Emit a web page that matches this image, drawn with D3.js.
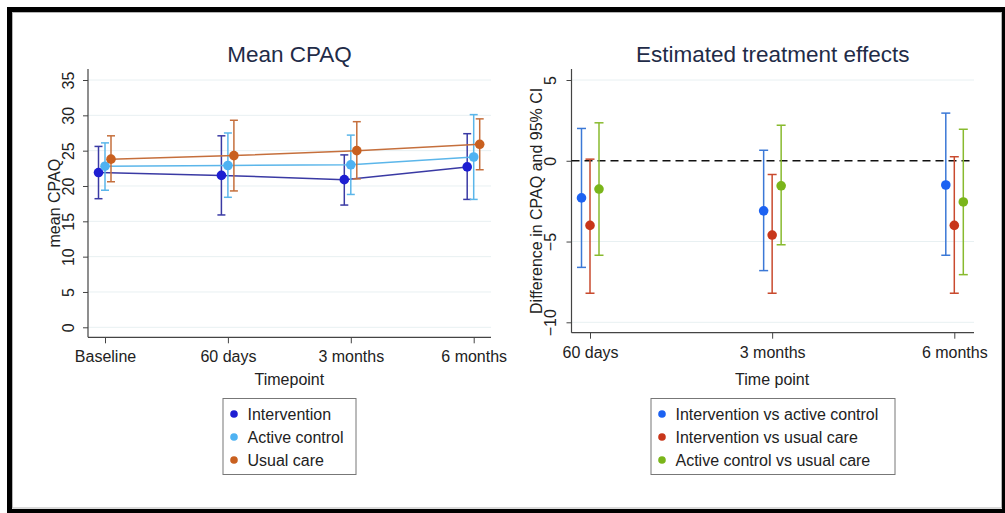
<!DOCTYPE html>
<html>
<head>
<meta charset="utf-8">
<script src="https://cdn.jsdelivr.net/npm/d3@7"></script>
<style>
  html, body { margin: 0; padding: 0; background: #fff; }
  svg { display: block; font-family: "Liberation Sans", Arial, sans-serif; }
</style>
</head>
<body>
<svg id="chart" width="1005" height="513"></svg>
<script>
// left panel: mean CPAQ with 95% CI
const timepoints = ["Baseline", "60 days", "3 months", "6 months"];
const groups = ["Intervention", "Active control", "Usual care"];
const meanVals = {
  "Intervention":   [21.9, 21.5, 20.9, 22.7],
  "Active control": [22.8, 22.9, 23.0, 24.1],
  "Usual care":     [23.8, 24.3, 25.0, 25.9],
};
const meanLo = {
  "Intervention":   [18.2, 15.9, 17.3, 18.1],
  "Active control": [19.4, 18.4, 18.8, 18.1],
  "Usual care":     [20.6, 19.3, 21.0, 22.3],
};
const meanHi = {
  "Intervention":   [25.6, 27.1, 24.4, 27.4],
  "Active control": [26.1, 27.5, 27.2, 30.1],
  "Usual care":     [27.1, 29.3, 29.1, 29.5],
};
const leftTicks = [0, 5, 10, 15, 20, 25, 30, 35];

// right panel: estimated treatment effects
const effTimepoints = ["60 days", "3 months", "6 months"];
const contrasts = ["Intervention vs active control", "Intervention vs usual care", "Active control vs usual care"];
const effVals = {
  "Intervention vs active control": [-2.3, -3.1, -1.5],
  "Intervention vs usual care":     [-4.0, -4.6, -4.0],
  "Active control vs usual care":   [-1.75, -1.55, -2.55],
};
const effLo = {
  "Intervention vs active control": [-6.6, -6.8, -5.85],
  "Intervention vs usual care":     [-8.2, -8.2, -8.2],
  "Active control vs usual care":   [-5.85, -5.2, -7.05],
};
const effHi = {
  "Intervention vs active control": [2.0, 0.65, 2.95],
  "Intervention vs usual care":     [0.1, -0.85, 0.25],
  "Active control vs usual care":   [2.35, 2.2, 1.95],
};
const rightTicks = [-10, -5, 0, 5];

const groupColor = {
  "Intervention":   { dot: "#1e1ed2", bar: "#3a3aa4" },
  "Active control": { dot: "#4eb2f2", bar: "#5bb6ea" },
  "Usual care":     { dot: "#c9601f", bar: "#c56f3c" },
};
const contrastColor = {
  "Intervention vs active control": { dot: "#1c62f2", bar: "#3b78d6" },
  "Intervention vs usual care":     { dot: "#c8361a", bar: "#c94a2e" },
  "Active control vs usual care":   { dot: "#7ab51a", bar: "#88ba2e" },
};

const svg = d3.select("#chart");
const gridColor = "#e8f0f2";
const axisColor = "#444";
const textColor = "#222";

// frame
svg.append("rect").attr("x", 9.5).attr("y", 9.5).attr("width", 995).attr("height", 502)
  .attr("fill", "#fff").attr("stroke", "#000").attr("stroke-width", 5);
svg.append("rect").attr("x", 12.5).attr("y", 12.5).attr("width", 989).attr("height", 495.5)
  .attr("fill", "none").attr("stroke", "#b5b5b5").attr("stroke-width", 1);

function styleYAxis(ya, labelShift) {
  ya.select(".domain").remove();
  ya.selectAll(".tick line").attr("stroke", axisColor);
  ya.selectAll(".tick text")
    .attr("x", null).attr("dy", null)
    .attr("transform", `translate(${labelShift},0) rotate(-90)`)
    .attr("text-anchor", "middle")
    .attr("fill", textColor)
    .style("font-size", "16px");
}

function panel(opts) {
  const { x0, x1, top, bottom, xScale, yScale, ticks, title, yTitle, xTitle, xLabelY, yTitleX, labelShift } = opts;
  const g = svg.append("g");

  // gridlines
  g.append("g").selectAll("line").data(ticks).join("line")
    .attr("x1", x0).attr("x2", x1)
    .attr("y1", (d) => yScale(d)).attr("y2", (d) => yScale(d))
    .attr("stroke", gridColor).attr("stroke-width", 1);

  // y axis
  const ya = g.append("g").attr("transform", `translate(${x0},0)`)
    .call(d3.axisLeft(yScale).tickValues(ticks).tickSize(5).tickSizeOuter(0));
  styleYAxis(ya, labelShift);
  g.append("line").attr("x1", x0).attr("x2", x0).attr("y1", top).attr("y2", bottom)
    .attr("stroke", axisColor).attr("stroke-width", 1.2);

  // x axis
  const xa = g.append("g").attr("transform", `translate(0,${bottom})`)
    .call(d3.axisBottom(xScale).tickSize(6).tickSizeOuter(0));
  xa.select(".domain").remove();
  xa.selectAll(".tick line").attr("stroke", axisColor);
  xa.selectAll(".tick text")
    .attr("y", null).attr("dy", null)
    .attr("transform", `translate(0,${xLabelY - bottom})`)
    .attr("fill", textColor)
    .style("font-size", "16px");
  g.append("line").attr("x1", x0).attr("x2", x1).attr("y1", bottom).attr("y2", bottom)
    .attr("stroke", axisColor).attr("stroke-width", 1.2);

  // titles
  g.append("text").attr("x", (x0 + x1) / 2).attr("y", 61.5)
    .attr("text-anchor", "middle").attr("fill", "#1f2c48")
    .style("font-size", "22.5px").text(title);
  g.append("text").attr("x", (xScale.range()[0] + xScale.range()[1]) / 2).attr("y", 385)
    .attr("text-anchor", "middle").attr("fill", textColor)
    .style("font-size", "16px").text(xTitle);
  g.append("text")
    .attr("transform", `translate(${yTitleX},${(top + bottom) / 2}) rotate(-90)`)
    .attr("text-anchor", "middle").attr("fill", textColor)
    .style("font-size", "16px").text(yTitle);
  return g;
}

function errorBars(g, cats, xScale, yScale, series, vals, lo, hi, colors, offsets, cap, withLine) {
  series.forEach((s, si) => {
    const pts = cats.map((c, i) => ({
      x: xScale(c) + offsets[si], v: vals[s][i], lo: lo[s][i], hi: hi[s][i],
    }));
    const col = colors[s];
    if (withLine) {
      g.append("path").datum(pts)
        .attr("d", d3.line().x((d) => d.x).y((d) => yScale(d.v)))
        .attr("fill", "none").attr("stroke", col.bar).attr("stroke-width", 1.5);
    }
    const eb = g.append("g").attr("stroke", col.bar).attr("stroke-width", 1.5);
    eb.selectAll("line.v").data(pts).join("line").attr("class", "v")
      .attr("x1", (d) => d.x).attr("x2", (d) => d.x)
      .attr("y1", (d) => yScale(d.lo)).attr("y2", (d) => yScale(d.hi));
    eb.selectAll("line.t").data(pts).join("line").attr("class", "t")
      .attr("x1", (d) => d.x - cap).attr("x2", (d) => d.x + cap)
      .attr("y1", (d) => yScale(d.hi)).attr("y2", (d) => yScale(d.hi));
    eb.selectAll("line.b").data(pts).join("line").attr("class", "b")
      .attr("x1", (d) => d.x - cap).attr("x2", (d) => d.x + cap)
      .attr("y1", (d) => yScale(d.lo)).attr("y2", (d) => yScale(d.lo));
  });
  series.forEach((s, si) => {
    g.append("g").selectAll("circle").data(cats).join("circle")
      .attr("cx", (c) => xScale(c) + offsets[si])
      .attr("cy", (c, i) => yScale(vals[s][i]))
      .attr("r", 4.8).attr("fill", colors[s].dot);
  });
}

function legend(x, y, w, h, items, colors) {
  const lg = svg.append("g");
  lg.append("rect").attr("x", x + 0.5).attr("y", y + 0.5).attr("width", w).attr("height", h)
    .attr("fill", "#fff").attr("stroke", "#777").attr("stroke-width", 1);
  items.forEach((it, i) => {
    const cy = y + 16 + i * 23;
    lg.append("circle").attr("cx", x + 11.5).attr("cy", cy).attr("r", 3.8).attr("fill", colors[it].dot);
    lg.append("text").attr("x", x + 25).attr("y", cy + 5.7)
      .attr("fill", textColor).style("font-size", "16px").text(it);
  });
}

// ---- left panel
const xL = d3.scalePoint().domain(timepoints).range([105, 473.7]);
const yL = d3.scaleLinear().domain([0, 35]).range([327.3, 80]);
const gL = panel({
  x0: 88, x1: 491, top: 69, bottom: 337.3, xScale: xL, yScale: yL, ticks: leftTicks,
  title: "Mean CPAQ", yTitle: "mean CPAQ", xTitle: "Timepoint", xLabelY: 361.5, yTitleX: 59.5,
  labelShift: -14,
});
errorBars(gL, timepoints, xL, yL, groups, meanVals, meanLo, meanHi, groupColor, [-6.5, 0, 6], 4, true);
legend(222.5, 398, 133, 76, groups, groupColor);

// ---- right panel
const xR = d3.scalePoint().domain(effTimepoints).range([590, 954.3]);
const yR = d3.scaleLinear().domain([-10, 5]).range([322.3, 80]);
const gR = panel({
  x0: 571.5, x1: 974, top: 69, bottom: 332.7, xScale: xR, yScale: yR, ticks: rightTicks.filter((d) => d !== 0),
  title: "Estimated treatment effects", yTitle: "Difference in CPAQ and 95% CI", xTitle: "Time point",
  xLabelY: 357.5, yTitleX: 541.5, labelShift: -15.5,
});
// tick at 0 (label only, gridline replaced by dashed reference)
const y0 = gR.append("g").attr("transform", "translate(571.5,0)")
  .call(d3.axisLeft(yR).tickValues([0]).tickSize(5).tickSizeOuter(0));
styleYAxis(y0, -15.5);
gR.append("line").attr("x1", 571.5).attr("x2", 974).attr("y1", yR(0)).attr("y2", yR(0))
  .attr("stroke", "#111").attr("stroke-width", 1.4).attr("stroke-dasharray", "8,5");
errorBars(gR, effTimepoints, xR, yR, contrasts, effVals, effLo, effHi, contrastColor, [-8.5, 0, 9], 4.5, false);
legend(650.5, 398, 244, 76, contrasts, contrastColor);
</script>
</body>
</html>
